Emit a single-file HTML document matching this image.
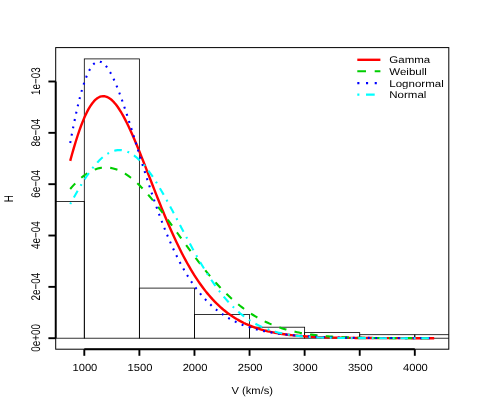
<!DOCTYPE html><html><head><meta charset="utf-8"><style>html,body{margin:0;padding:0;background:#fff}svg{display:block;will-change:transform}text{font-family:"Liberation Sans",sans-serif;fill:#000;text-rendering:geometricPrecision}</style></head><body>
<svg width="477" height="409" viewBox="0 0 477 409">
<rect width="477" height="409" fill="#fff"/>
<defs><clipPath id="c"><rect x="55.7" y="47.6" width="393.1" height="301.59999999999997"/></clipPath></defs>
<g clip-path="url(#c)" fill="none" stroke="#000" stroke-width="0.8">
<rect x="29.22" y="201.4" width="55.08" height="136.80"/>
<rect x="84.30" y="58.9" width="55.08" height="279.30"/>
<rect x="139.38" y="288.1" width="55.08" height="50.10"/>
<rect x="194.47" y="314.4" width="55.08" height="23.80"/>
<rect x="249.55" y="327.2" width="55.08" height="11.00"/>
<rect x="304.63" y="332.6" width="55.08" height="5.60"/>
<rect x="359.72" y="334.7" width="55.08" height="3.50"/>
<rect x="414.80" y="334.7" width="55.08" height="3.50"/>
</g>
<rect x="55.7" y="47.6" width="393.10" height="301.60" fill="none" stroke="#000" stroke-width="1"/>
<g stroke="#000" stroke-width="1.9" fill="none">
<path d="M84.30 349.2 H414.80"/>
<path d="M84.30 349.2 v6.6"/>
<path d="M139.38 349.2 v6.6"/>
<path d="M194.47 349.2 v6.6"/>
<path d="M249.55 349.2 v6.6"/>
<path d="M304.63 349.2 v6.6"/>
<path d="M359.72 349.2 v6.6"/>
<path d="M414.80 349.2 v6.6"/>
<path d="M55.7 338.20 V81.50"/>
<path d="M55.7 338.20 h-7.3"/>
<path d="M55.7 286.86 h-7.3"/>
<path d="M55.7 235.52 h-7.3"/>
<path d="M55.7 184.18 h-7.3"/>
<path d="M55.7 132.84 h-7.3"/>
<path d="M55.7 81.50 h-7.3"/>
</g>
<g>
<text transform="translate(84.90,371.20) scale(1.085,1)" font-size="10.3" text-anchor="middle">1000</text>
<text transform="translate(139.98,371.20) scale(1.085,1)" font-size="10.3" text-anchor="middle">1500</text>
<text transform="translate(195.07,371.20) scale(1.085,1)" font-size="10.3" text-anchor="middle">2000</text>
<text transform="translate(250.15,371.20) scale(1.085,1)" font-size="10.3" text-anchor="middle">2500</text>
<text transform="translate(305.23,371.20) scale(1.085,1)" font-size="10.3" text-anchor="middle">3000</text>
<text transform="translate(360.32,371.20) scale(1.085,1)" font-size="10.3" text-anchor="middle">3500</text>
<text transform="translate(415.40,371.20) scale(1.085,1)" font-size="10.3" text-anchor="middle">4000</text>
<text transform="translate(39.60,337.90) rotate(-90) scale(1,1.28)" font-size="9.9" text-anchor="middle">0e+00</text>
<text transform="translate(39.60,286.56) rotate(-90) scale(1,1.28)" font-size="9.9" text-anchor="middle">2e−04</text>
<text transform="translate(39.60,235.22) rotate(-90) scale(1,1.28)" font-size="9.9" text-anchor="middle">4e−04</text>
<text transform="translate(39.60,183.88) rotate(-90) scale(1,1.28)" font-size="9.9" text-anchor="middle">6e−04</text>
<text transform="translate(39.60,132.54) rotate(-90) scale(1,1.28)" font-size="9.9" text-anchor="middle">8e−04</text>
<text transform="translate(39.60,81.20) rotate(-90) scale(1,1.28)" font-size="9.9" text-anchor="middle">1e−03</text>
<text transform="translate(252.25,394.20) scale(1.085,1)" font-size="10.3" text-anchor="middle">V (km/s)</text>
<text transform="translate(13.10,198.80) rotate(-90) scale(1,1.28)" font-size="9.9" text-anchor="middle">H</text>
</g>
<g fill="none" stroke-width="2.1" stroke-linejoin="round">
<path d="M70.20 160.85 L72.03 154.20 L73.86 147.83 L75.69 141.75 L77.52 136.00 L79.34 130.58 L81.17 125.53 L83.00 120.85 L84.83 116.56 L86.66 112.66 L88.49 109.18 L90.32 106.10 L92.15 103.45 L93.98 101.20 L95.81 99.38 L97.64 97.96 L99.46 96.95 L101.29 96.34 L103.12 96.13 L104.95 96.29 L106.78 96.82 L108.61 97.72 L110.44 98.95 L112.27 100.52 L114.10 102.40 L115.93 104.57 L117.76 107.03 L119.58 109.76 L121.41 112.73 L123.24 115.93 L125.07 119.35 L126.90 122.96 L128.73 126.74 L130.56 130.69 L132.39 134.79 L134.22 139.01 L136.05 143.34 L137.88 147.77 L139.70 152.29 L141.53 156.86 L143.36 161.49 L145.19 166.16 L147.02 170.86 L148.85 175.57 L150.68 180.29 L152.51 184.99 L154.34 189.68 L156.17 194.34 L158.00 198.97 L159.82 203.55 L161.65 208.08 L163.48 212.55 L165.31 216.96 L167.14 221.29 L168.97 225.55 L170.80 229.73 L172.63 233.83 L174.46 237.84 L176.29 241.75 L178.12 245.58 L179.94 249.30 L181.77 252.93 L183.60 256.47 L185.43 259.90 L187.26 263.23 L189.09 266.46 L190.92 269.59 L192.75 272.63 L194.58 275.56 L196.41 278.39 L198.24 281.13 L200.06 283.76 L201.89 286.31 L203.72 288.76 L205.55 291.12 L207.38 293.38 L209.21 295.56 L211.04 297.65 L212.87 299.66 L214.70 301.58 L216.53 303.43 L218.36 305.19 L220.18 306.88 L222.01 308.50 L223.84 310.05 L225.67 311.52 L227.50 312.93 L229.33 314.28 L231.16 315.56 L232.99 316.78 L234.82 317.94 L236.65 319.05 L238.48 320.10 L240.30 321.11 L242.13 322.06 L243.96 322.97 L245.79 323.83 L247.62 324.64 L249.45 325.42 L251.28 326.15 L253.11 326.85 L254.94 327.51 L256.77 328.13 L258.60 328.72 L260.42 329.28 L262.25 329.81 L264.08 330.31 L265.91 330.78 L267.74 331.23 L269.57 331.65 L271.40 332.05 L273.23 332.42 L275.06 332.78 L276.89 333.11 L278.72 333.43 L280.55 333.72 L282.37 334.00 L284.20 334.26 L286.03 334.51 L287.86 334.75 L289.69 334.96 L291.52 335.17 L293.35 335.36 L295.18 335.55 L297.01 335.72 L298.84 335.88 L300.67 336.03 L302.49 336.17 L304.32 336.30 L306.15 336.43 L307.98 336.54 L309.81 336.65 L311.64 336.75 L313.47 336.85 L315.30 336.94 L317.13 337.02 L318.96 337.10 L320.79 337.18 L322.61 337.25 L324.44 337.31 L326.27 337.37 L328.10 337.43 L329.93 337.48 L331.76 337.53 L333.59 337.58 L335.42 337.62 L337.25 337.66 L339.08 337.70 L340.91 337.73 L342.73 337.76 L344.56 337.79 L346.39 337.82 L348.22 337.85 L350.05 337.87 L351.88 337.90 L353.71 337.92 L355.54 337.94 L357.37 337.96 L359.20 337.97 L361.03 337.99 L362.85 338.00 L364.68 338.02 L366.51 338.03 L368.34 338.04 L370.17 338.06 L372.00 338.07 L373.83 338.08 L375.66 338.08 L377.49 338.09 L379.32 338.10 L381.15 338.11 L382.97 338.11 L384.80 338.12 L386.63 338.13 L388.46 338.13 L390.29 338.14 L392.12 338.14 L393.95 338.15 L395.78 338.15 L397.61 338.15 L399.44 338.16 L401.27 338.16 L403.09 338.16 L404.92 338.17 L406.75 338.17 L408.58 338.17 L410.41 338.17 L412.24 338.18 L414.07 338.18 L415.90 338.18 L417.73 338.18 L419.56 338.18 L421.39 338.18 L423.21 338.18 L425.04 338.19 L426.87 338.19 L428.70 338.19 L430.53 338.19 L432.36 338.19 L434.19 338.19" stroke="#FF0000" stroke-width="2.4"/>
<path d="M70.20 189.03 L72.03 186.92 L73.86 184.90 L75.69 182.98 L77.52 181.17 L79.34 179.46 L81.17 177.86 L83.00 176.38 L84.83 175.00 L86.66 173.74 L88.49 172.59 L90.32 171.56 L92.15 170.64 L93.98 169.84 L95.81 169.16 L97.64 168.59 L99.46 168.14 L101.29 167.81 L103.12 167.59 L104.95 167.49 L106.78 167.50 L108.61 167.63 L110.44 167.87 L112.27 168.22 L114.10 168.69 L115.93 169.26 L117.76 169.94 L119.58 170.72 L121.41 171.61 L123.24 172.60 L125.07 173.68 L126.90 174.86 L128.73 176.14 L130.56 177.50 L132.39 178.95 L134.22 180.49 L136.05 182.11 L137.88 183.81 L139.70 185.58 L141.53 187.42 L143.36 189.34 L145.19 191.31 L147.02 193.35 L148.85 195.45 L150.68 197.60 L152.51 199.80 L154.34 202.05 L156.17 204.35 L158.00 206.68 L159.82 209.05 L161.65 211.46 L163.48 213.89 L165.31 216.35 L167.14 218.83 L168.97 221.33 L170.80 223.85 L172.63 226.38 L174.46 228.91 L176.29 231.46 L178.12 234.00 L179.94 236.55 L181.77 239.09 L183.60 241.63 L185.43 244.15 L187.26 246.67 L189.09 249.17 L190.92 251.65 L192.75 254.11 L194.58 256.56 L196.41 258.97 L198.24 261.37 L200.06 263.73 L201.89 266.06 L203.72 268.36 L205.55 270.63 L207.38 272.87 L209.21 275.07 L211.04 277.23 L212.87 279.35 L214.70 281.43 L216.53 283.47 L218.36 285.47 L220.18 287.42 L222.01 289.33 L223.84 291.20 L225.67 293.03 L227.50 294.80 L229.33 296.54 L231.16 298.23 L232.99 299.87 L234.82 301.47 L236.65 303.02 L238.48 304.53 L240.30 305.99 L242.13 307.41 L243.96 308.78 L245.79 310.11 L247.62 311.39 L249.45 312.63 L251.28 313.83 L253.11 314.99 L254.94 316.10 L256.77 317.18 L258.60 318.21 L260.42 319.21 L262.25 320.16 L264.08 321.08 L265.91 321.96 L267.74 322.81 L269.57 323.62 L271.40 324.40 L273.23 325.14 L275.06 325.85 L276.89 326.53 L278.72 327.18 L280.55 327.80 L282.37 328.39 L284.20 328.95 L286.03 329.49 L287.86 330.00 L289.69 330.48 L291.52 330.94 L293.35 331.38 L295.18 331.80 L297.01 332.19 L298.84 332.56 L300.67 332.92 L302.49 333.25 L304.32 333.57 L306.15 333.86 L307.98 334.15 L309.81 334.41 L311.64 334.66 L313.47 334.90 L315.30 335.12 L317.13 335.33 L318.96 335.53 L320.79 335.71 L322.61 335.89 L324.44 336.05 L326.27 336.20 L328.10 336.34 L329.93 336.48 L331.76 336.60 L333.59 336.72 L335.42 336.83 L337.25 336.93 L339.08 337.03 L340.91 337.12 L342.73 337.20 L344.56 337.28 L346.39 337.35 L348.22 337.41 L350.05 337.48 L351.88 337.53 L353.71 337.59 L355.54 337.64 L357.37 337.68 L359.20 337.72 L361.03 337.76 L362.85 337.80 L364.68 337.83 L366.51 337.86 L368.34 337.89 L370.17 337.92 L372.00 337.94 L373.83 337.97 L375.66 337.99 L377.49 338.00 L379.32 338.02 L381.15 338.04 L382.97 338.05 L384.80 338.07 L386.63 338.08 L388.46 338.09 L390.29 338.10 L392.12 338.11 L393.95 338.12 L395.78 338.12 L397.61 338.13 L399.44 338.14 L401.27 338.14 L403.09 338.15 L404.92 338.15 L406.75 338.16 L408.58 338.16 L410.41 338.17 L412.24 338.17 L414.07 338.17 L415.90 338.18 L417.73 338.18 L419.56 338.18 L421.39 338.18 L423.21 338.18 L425.04 338.19 L426.87 338.19 L428.70 338.19 L430.53 338.19 L432.36 338.19 L434.19 338.19" stroke="#00CD00" stroke-dasharray="7.5 8.3"/>
<path d="M70.20 143.03 L72.03 133.29 L73.86 124.02 L75.69 115.27 L77.52 107.10 L79.34 99.54 L81.17 92.63 L83.00 86.40 L84.83 80.86 L86.66 76.02 L88.49 71.89 L90.32 68.47 L92.15 65.75 L93.98 63.72 L95.81 62.36 L97.64 61.65 L99.46 61.58 L101.29 62.11 L103.12 63.21 L104.95 64.85 L106.78 67.01 L108.61 69.64 L110.44 72.71 L112.27 76.19 L114.10 80.04 L115.93 84.24 L117.76 88.73 L119.58 93.50 L121.41 98.51 L123.24 103.72 L125.07 109.11 L126.90 114.66 L128.73 120.32 L130.56 126.08 L132.39 131.91 L134.22 137.80 L136.05 143.71 L137.88 149.63 L139.70 155.54 L141.53 161.42 L143.36 167.26 L145.19 173.05 L147.02 178.77 L148.85 184.41 L150.68 189.96 L152.51 195.42 L154.34 200.77 L156.17 206.01 L158.00 211.13 L159.82 216.12 L161.65 221.00 L163.48 225.74 L165.31 230.35 L167.14 234.83 L168.97 239.17 L170.80 243.38 L172.63 247.45 L174.46 251.39 L176.29 255.20 L178.12 258.87 L179.94 262.41 L181.77 265.83 L183.60 269.11 L185.43 272.28 L187.26 275.32 L189.09 278.24 L190.92 281.04 L192.75 283.73 L194.58 286.32 L196.41 288.79 L198.24 291.16 L200.06 293.43 L201.89 295.60 L203.72 297.68 L205.55 299.66 L207.38 301.56 L209.21 303.37 L211.04 305.10 L212.87 306.75 L214.70 308.33 L216.53 309.83 L218.36 311.26 L220.18 312.62 L222.01 313.92 L223.84 315.16 L225.67 316.34 L227.50 317.46 L229.33 318.53 L231.16 319.54 L232.99 320.51 L234.82 321.42 L236.65 322.29 L238.48 323.12 L240.30 323.91 L242.13 324.66 L243.96 325.37 L245.79 326.04 L247.62 326.68 L249.45 327.29 L251.28 327.86 L253.11 328.41 L254.94 328.93 L256.77 329.42 L258.60 329.89 L260.42 330.33 L262.25 330.75 L264.08 331.15 L265.91 331.52 L267.74 331.88 L269.57 332.22 L271.40 332.54 L273.23 332.84 L275.06 333.13 L276.89 333.40 L278.72 333.66 L280.55 333.90 L282.37 334.13 L284.20 334.35 L286.03 334.56 L287.86 334.76 L289.69 334.94 L291.52 335.12 L293.35 335.28 L295.18 335.44 L297.01 335.59 L298.84 335.73 L300.67 335.86 L302.49 335.99 L304.32 336.11 L306.15 336.22 L307.98 336.33 L309.81 336.43 L311.64 336.53 L313.47 336.62 L315.30 336.70 L317.13 336.78 L318.96 336.86 L320.79 336.93 L322.61 337.00 L324.44 337.07 L326.27 337.13 L328.10 337.19 L329.93 337.24 L331.76 337.29 L333.59 337.34 L335.42 337.39 L337.25 337.43 L339.08 337.47 L340.91 337.51 L342.73 337.55 L344.56 337.58 L346.39 337.62 L348.22 337.65 L350.05 337.68 L351.88 337.71 L353.71 337.73 L355.54 337.76 L357.37 337.78 L359.20 337.80 L361.03 337.83 L362.85 337.85 L364.68 337.86 L366.51 337.88 L368.34 337.90 L370.17 337.92 L372.00 337.93 L373.83 337.95 L375.66 337.96 L377.49 337.97 L379.32 337.98 L381.15 338.00 L382.97 338.01 L384.80 338.02 L386.63 338.03 L388.46 338.04 L390.29 338.04 L392.12 338.05 L393.95 338.06 L395.78 338.07 L397.61 338.07 L399.44 338.08 L401.27 338.09 L403.09 338.09 L404.92 338.10 L406.75 338.10 L408.58 338.11 L410.41 338.11 L412.24 338.12 L414.07 338.12 L415.90 338.13 L417.73 338.13 L419.56 338.13 L421.39 338.14 L423.21 338.14 L425.04 338.14 L426.87 338.15 L428.70 338.15 L430.53 338.15 L432.36 338.16 L434.19 338.16" stroke="#0000FF" stroke-dasharray="1.9 5.6"/>
<path d="M70.20 204.05 L72.03 200.71 L73.86 197.41 L75.69 194.17 L77.52 190.99 L79.34 187.88 L81.17 184.85 L83.00 181.90 L84.83 179.04 L86.66 176.28 L88.49 173.63 L90.32 171.09 L92.15 168.67 L93.98 166.37 L95.81 164.21 L97.64 162.18 L99.46 160.29 L101.29 158.55 L103.12 156.96 L104.95 155.52 L106.78 154.25 L108.61 153.14 L110.44 152.20 L112.27 151.42 L114.10 150.82 L115.93 150.39 L117.76 150.13 L119.58 150.05 L121.41 150.15 L123.24 150.42 L125.07 150.86 L126.90 151.47 L128.73 152.26 L130.56 153.21 L132.39 154.34 L134.22 155.62 L136.05 157.06 L137.88 158.66 L139.70 160.42 L141.53 162.31 L143.36 164.35 L145.19 166.53 L147.02 168.83 L148.85 171.27 L150.68 173.81 L152.51 176.47 L154.34 179.24 L156.17 182.10 L158.00 185.06 L159.82 188.09 L161.65 191.21 L163.48 194.39 L165.31 197.64 L167.14 200.94 L168.97 204.29 L170.80 207.67 L172.63 211.09 L174.46 214.54 L176.29 218.00 L178.12 221.48 L179.94 224.96 L181.77 228.44 L183.60 231.91 L185.43 235.37 L187.26 238.80 L189.09 242.21 L190.92 245.60 L192.75 248.94 L194.58 252.24 L196.41 255.50 L198.24 258.71 L200.06 261.87 L201.89 264.97 L203.72 268.00 L205.55 270.98 L207.38 273.89 L209.21 276.73 L211.04 279.50 L212.87 282.19 L214.70 284.81 L216.53 287.36 L218.36 289.83 L220.18 292.22 L222.01 294.54 L223.84 296.78 L225.67 298.94 L227.50 301.02 L229.33 303.02 L231.16 304.95 L232.99 306.80 L234.82 308.57 L236.65 310.27 L238.48 311.90 L240.30 313.46 L242.13 314.94 L243.96 316.36 L245.79 317.71 L247.62 318.99 L249.45 320.21 L251.28 321.37 L253.11 322.47 L254.94 323.51 L256.77 324.49 L258.60 325.42 L260.42 326.30 L262.25 327.13 L264.08 327.91 L265.91 328.64 L267.74 329.33 L269.57 329.98 L271.40 330.59 L273.23 331.16 L275.06 331.69 L276.89 332.19 L278.72 332.65 L280.55 333.09 L282.37 333.49 L284.20 333.87 L286.03 334.22 L287.86 334.54 L289.69 334.85 L291.52 335.12 L293.35 335.38 L295.18 335.62 L297.01 335.84 L298.84 336.05 L300.67 336.24 L302.49 336.41 L304.32 336.57 L306.15 336.72 L307.98 336.85 L309.81 336.98 L311.64 337.09 L313.47 337.19 L315.30 337.29 L317.13 337.38 L318.96 337.45 L320.79 337.53 L322.61 337.59 L324.44 337.65 L326.27 337.71 L328.10 337.76 L329.93 337.80 L331.76 337.84 L333.59 337.88 L335.42 337.91 L337.25 337.94 L339.08 337.97 L340.91 337.99 L342.73 338.02 L344.56 338.04 L346.39 338.05 L348.22 338.07 L350.05 338.08 L351.88 338.10 L353.71 338.11 L355.54 338.12 L357.37 338.13 L359.20 338.14 L361.03 338.14 L362.85 338.15 L364.68 338.16 L366.51 338.16 L368.34 338.17 L370.17 338.17 L372.00 338.17 L373.83 338.18 L375.66 338.18 L377.49 338.18 L379.32 338.18 L381.15 338.19 L382.97 338.19 L384.80 338.19 L386.63 338.19 L388.46 338.19 L390.29 338.19 L392.12 338.19 L393.95 338.19 L395.78 338.20 L397.61 338.20 L399.44 338.20 L401.27 338.20 L403.09 338.20 L404.92 338.20 L406.75 338.20 L408.58 338.20 L410.41 338.20 L412.24 338.20 L414.07 338.20 L415.90 338.20 L417.73 338.20 L419.56 338.20 L421.39 338.20 L423.21 338.20 L425.04 338.20 L426.87 338.20 L428.70 338.20 L430.53 338.20 L432.36 338.20 L434.19 338.20" stroke="#00FFFF" stroke-dasharray="1.9 5.7 7.6 5.8"/>
</g>
<g fill="none" stroke-width="2.1">
<path d="M357.3 59.8 H380.4" stroke="#FF0000" stroke-width="2.4"/>
<path d="M357.3 71.3 H380.4" stroke="#00CD00" stroke-dasharray="8.7 8.7"/>
<path d="M357.3 83.1 H380.4" stroke="#0000FF" stroke-dasharray="2.1 6.6"/>
<path d="M357.3 94.6 H380.4" stroke="#00FFFF" stroke-dasharray="2.1 6.6 8.7 6.6"/>
</g>
<text transform="translate(389.30,63.10) scale(1.175,1)" font-size="9.8" text-anchor="start">Gamma</text>
<text transform="translate(389.30,74.70) scale(1.175,1)" font-size="9.8" text-anchor="start">Weibull</text>
<text transform="translate(389.30,86.70) scale(1.175,1)" font-size="9.8" text-anchor="start">Lognormal</text>
<text transform="translate(389.30,98.00) scale(1.175,1)" font-size="9.8" text-anchor="start">Normal</text>
</svg></body></html>
